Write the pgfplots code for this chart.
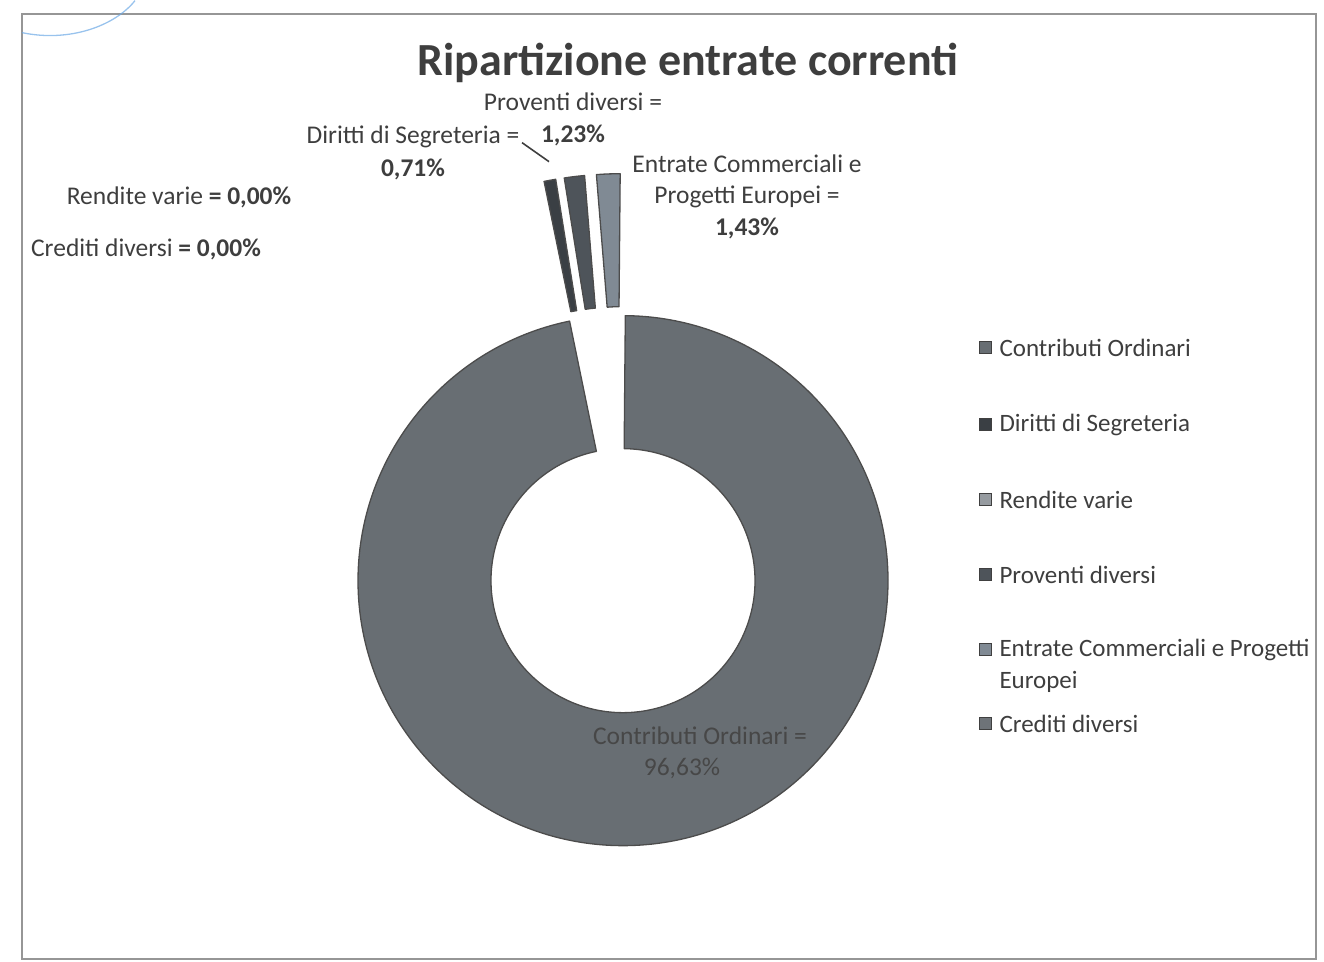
\documentclass[border=0pt]{standalone}
\usepackage{pgfplots}
\pgfplotsset{compat=1.18}
\usepackage{pgfplotstable}
\usepackage{fontspec}
\setmainfont{Carlito}

\definecolor{c0}{RGB}{104,110,115}
\definecolor{c1}{RGB}{58,63,68}
\definecolor{c2}{RGB}{150,155,160}
\definecolor{c3}{RGB}{78,84,90}
\definecolor{c4}{RGB}{128,138,148}
\definecolor{c5}{RGB}{110,115,120}
\definecolor{framegray}{RGB}{150,150,150}
\definecolor{txt}{RGB}{62,62,62}
\definecolor{stamp}{RGB}{110,170,230}

% one row per slice: value in percent, explosion distance (px)
\pgfplotstableread{
idx value explode
0 96.63 0
1 0.71 142
2 0.00 142
3 1.23 142
4 1.43 142
5 0.00 142
}\slices

\def\cx{623}\def\cy{381}\def\Rout{265}\def\Rin{132}
\xdef\cum{0.5}
\foreach \i in {0,...,5}{%
  \pgfplotstablegetelem{\i}{value}\of\slices \pgfmathsetmacro\v{\pgfplotsretval}%
  \pgfplotstablegetelem{\i}{explode}\of\slices \pgfmathsetmacro\d{\pgfplotsretval}%
  \pgfmathsetmacro\a{90-\cum}%
  \pgfmathsetmacro\b{90-\cum-3.6*\v}%
  \pgfmathsetmacro\m{(\a+\b)/2}%
  \pgfmathsetmacro\sx{\cx+\d*cos(\m)}%
  \pgfmathsetmacro\sy{\cy+\d*sin(\m)}%
  \pgfmathsetmacro\ox{\sx+\Rout*cos(\a)}%
  \pgfmathsetmacro\oy{\sy+\Rout*sin(\a)}%
  \pgfmathsetmacro\ix{\sx+\Rin*cos(\b)}%
  \pgfmathsetmacro\iy{\sy+\Rin*sin(\b)}%
  \expandafter\xdef\csname sa\i\endcsname{\a}%
  \expandafter\xdef\csname sb\i\endcsname{\b}%
  \expandafter\xdef\csname ox\i\endcsname{\ox}%
  \expandafter\xdef\csname oy\i\endcsname{\oy}%
  \expandafter\xdef\csname ix\i\endcsname{\ix}%
  \expandafter\xdef\csname iy\i\endcsname{\iy}%
  \pgfmathsetmacro\nc{\cum+3.6*\v}%
  \xdef\cum{\nc}%
}

\newcommand\px[2]{(axis cs:#1,{961-#2})}
\newcommand\lab{\fontsize{25.5}{30}\selectfont}
\newcommand\leg{\fontsize{25}{30}\selectfont}

\begin{document}
\begin{tikzpicture}
\begin{axis}[scale only axis, width=1324pt, height=961pt,
  xmin=0, xmax=1324, ymin=0, ymax=961, hide axis, clip=false]
\path (axis cs:0,0) rectangle (axis cs:1324,961);
% chart frame
\draw[framegray, line width=2pt] \px{22}{958} rectangle \px{1316}{13};
\draw[stamp, line width=1.3pt, opacity=0.7] \px{22}{32} .. controls \px{70}{42} and \px{115}{25} .. \px{135}{0};
% doughnut slices
\pgfplotsinvokeforeach{0,1,3,4}{
  \fill[c#1, draw=black!70, line width=1.3pt, line join=round]
    (axis cs:\csname ox#1\endcsname,\csname oy#1\endcsname)
    arc[start angle=\csname sa#1\endcsname, end angle=\csname sb#1\endcsname, radius=\Rout pt]
    -- (axis cs:\csname ix#1\endcsname,\csname iy#1\endcsname)
    arc[start angle=\csname sb#1\endcsname, end angle=\csname sa#1\endcsname, radius=\Rin pt]
    -- cycle;
}
% title
\node[txt, font=\fontsize{46}{54}\selectfont\bfseries] at \px{688}{62} {Ripartizione entrate correnti};
% data labels
\node[txt, font=\lab] at \px{573}{101} {Proventi diversi =};
\node[txt, font=\lab\bfseries] at \px{573}{135} {1,23\%};
\node[txt, font=\lab] at \px{413}{136} {Diritti di Segreteria =};
\node[txt, font=\lab\bfseries] at \px{413}{169} {0,71\%};
\draw[txt, line width=1.6pt] \px{522}{142} -- \px{549}{161};
\node[txt, font=\lab] at \px{747}{163} {Entrate Commerciali e};
\node[txt, font=\lab] at \px{747}{196} {Progetti Europei =};
\node[txt, font=\lab\bfseries] at \px{747}{228} {1,43\%};
\node[txt, font=\lab] at \px{179}{197} {Rendite varie \textbf{= 0,00\%}};
\node[txt, font=\lab] at \px{146}{249} {Crediti diversi \textbf{= 0,00\%}};
\node[black!72, font=\lab] at \px{700}{735} {Contributi Ordinari =};
\node[black!72, font=\lab] at \px{682}{768} {96,63\%};
% legend
\foreach \c/\y in {c0/347, c1/424, c2/499, c3/574, c4/649, c5/723}{
  \edef\tmp{\noexpand\fill[\c, draw=black!75, line width=1pt] \noexpand\px{979}{\y-6} rectangle \noexpand\px{991}{\y+6};}
  \tmp
}
\node[txt, font=\leg, anchor=west] at \px{996}{347} {Contributi Ordinari};
\node[txt, font=\leg, anchor=west] at \px{996}{424} {Diritti di Segreteria};
\node[txt, font=\leg, anchor=west] at \px{996}{499} {Rendite varie};
\node[txt, font=\leg, anchor=west] at \px{996}{574} {Proventi diversi};
\node[txt, font=\leg, anchor=west] at \px{996}{649} {Entrate Commerciali e Progetti};
\node[txt, font=\leg, anchor=west] at \px{996}{681} {Europei};
\node[txt, font=\leg, anchor=west] at \px{996}{723} {Crediti diversi};
\end{axis}
\end{tikzpicture}
\end{document}
